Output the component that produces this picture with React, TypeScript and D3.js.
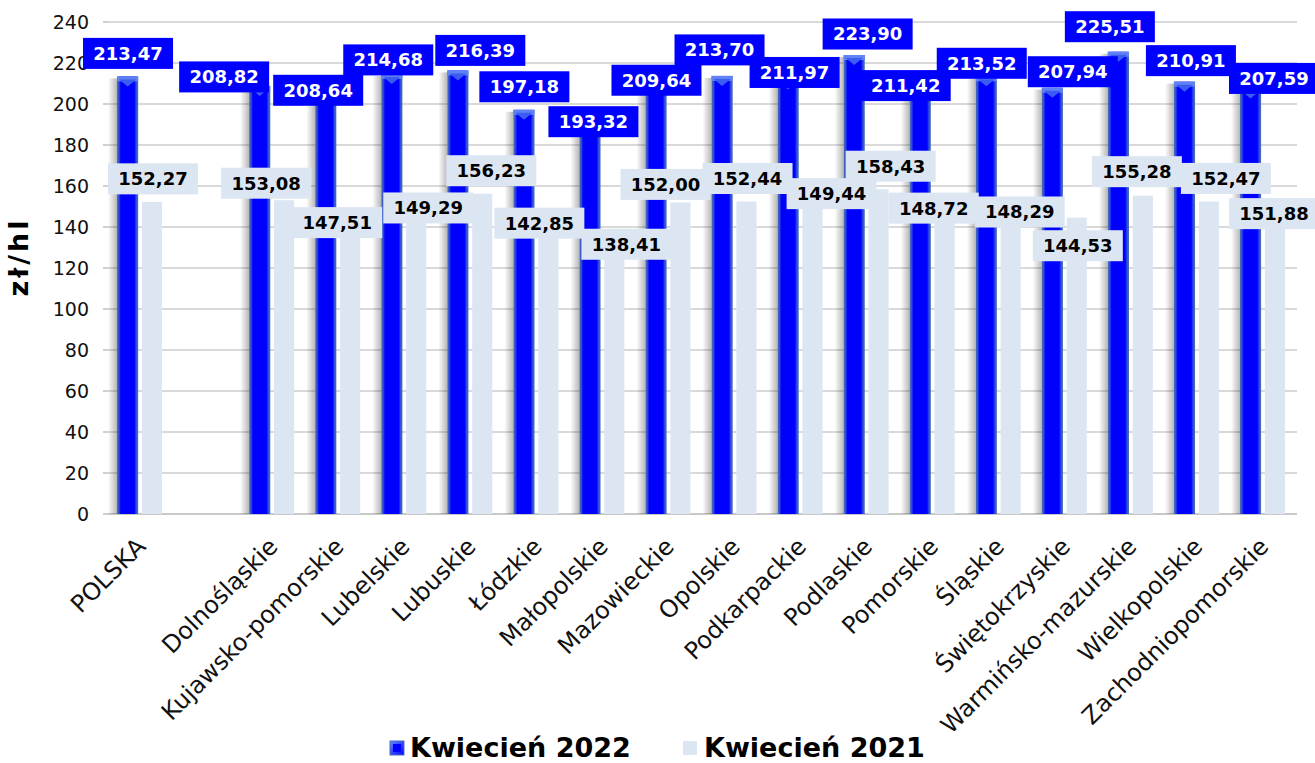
import React from 'react';
import * as d3 from 'd3';

const categories: string[] = [
  'POLSKA', '', 'Dolnośląskie', 'Kujawsko-pomorskie', 'Lubelskie', 'Lubuskie', 'Łódzkie',
  'Małopolskie', 'Mazowieckie', 'Opolskie', 'Podkarpackie', 'Podlaskie', 'Pomorskie',
  'Śląskie', 'Świętokrzyskie', 'Warmińsko-mazurskie', 'Wielkopolskie', 'Zachodniopomorskie',
];
const values2022: (number | null)[] = [
  213.47, null, 208.82, 208.64, 214.68, 216.39, 197.18, 193.32, 209.64, 213.7, 211.97,
  223.9, 211.42, 213.52, 207.94, 225.51, 210.91, 207.59,
];
const values2021: (number | null)[] = [
  152.27, null, 153.08, 147.51, 149.29, 156.23, 142.85, 138.41, 152.0, 152.44, 149.44,
  158.43, 148.72, 148.29, 144.53, 155.28, 152.47, 151.88,
];
const seriesNames = ['Kwiecień 2022', 'Kwiecień 2021'];
const yTicks = [0, 20, 40, 60, 80, 100, 120, 140, 160, 180, 200, 220, 240];

// layout: label box centre offsets (from slot centre, from bar top)
const labelOffset2022: [number, number][] = [
  [-13, -23], [0, 0], [-49, -9], [-21, 4], [-17, -14], [9, -20], [-13, -23], [-10, 4],
  [-13, -4], [-16, -26], [-7, -7], [0, -21], [-28, 5], [-18, -13], [7, -16], [-22, -25],
  [-7, -21], [10, -10],
];
const labelOffset2021: [number, number][] = [
  [12, -23], [0, 0], [-7, -17], [-2, 11], [23, 0], [20, -23], [2, 2], [23, 14],
  [-4, -18], [12, -23], [30, -14], [23, -23], [0, -1], [20, 2], [12, 28], [5, -24],
  [28, -23], [10, 11],
];

const W = 1315;
const H = 763;
const plotLeft = 108;
const plotRight = 1297;
const plotTop = 22;
const plotBottom = 514;
const FONT = "'DejaVu Sans', Verdana, sans-serif";

const fmt = (v: number) => v.toFixed(2).replace('.', ',');

export default function App() {
  const idx = categories.map((_, i) => String(i));
  const x0 = d3.scaleBand<string>().domain(idx).range([plotLeft, plotRight]).paddingInner(0).paddingOuter(0);
  const x1 = d3.scaleBand<string>().domain(seriesNames).range([-24, 22]).paddingInner(0.15);
  const y = d3.scaleLinear().domain([0, 240]).range([plotBottom, plotTop]);
  const center = (i: number) => (x0(String(i)) as number) + x0.bandwidth() / 2;
  const bw = x1.bandwidth();

  const boxW = 90;
  const boxH = 31;

  return (
    <svg
      width={W}
      height={H}
      style={{ position: 'absolute', left: 0, top: 0, background: '#fff' }}
      fontFamily={FONT}
    >
      <defs>
        <linearGradient id="blueBar" x1="0" x2="1" y1="0" y2="0">
          <stop offset="0%" stopColor="#4a70b8" />
          <stop offset="9%" stopColor="#3050d8" />
          <stop offset="18%" stopColor="#0000ff" />
          <stop offset="82%" stopColor="#0000ff" />
          <stop offset="91%" stopColor="#3050d8" />
          <stop offset="100%" stopColor="#4a70b8" />
        </linearGradient>
        <linearGradient id="shadow" x1="0" x2="1" y1="0" y2="0">
          <stop offset="0%" stopColor="#000" stopOpacity="0" />
          <stop offset="100%" stopColor="#000" stopOpacity="0.28" />
        </linearGradient>
        <linearGradient id="legendBlue" x1="0" x2="1" y1="0" y2="1">
          <stop offset="0%" stopColor="#6a8cff" />
          <stop offset="100%" stopColor="#0000ff" />
        </linearGradient>
      </defs>

      {/* gridlines */}
      {yTicks.map((t) => (
        <g key={t}>
          <line x1={plotLeft} x2={plotRight} y1={y(t)} y2={y(t)} stroke={t === 0 ? '#c8c8c8' : '#d9d9d9'} strokeWidth={2} />
          <line x1={plotLeft - 5} x2={plotLeft} y1={y(t)} y2={y(t)} stroke="#bfbfbf" strokeWidth={1.5} />
          <text x={89} y={y(t)} dy="0.36em" textAnchor="end" fontSize={19} fill="#111">
            {t}
          </text>
        </g>
      ))}

      {/* bars */}
      {categories.map((c, i) => {
        const cx = center(i);
        const v1 = values2022[i];
        const v2 = values2021[i];
        const bx1 = cx + (x1(seriesNames[0]) as number);
        const bx2 = cx + (x1(seriesNames[1]) as number);
        return (
          <g key={'b' + i}>
            {v1 != null && (
              <g>
                <rect x={bx1 - 9} y={y(v1) + 2} width={9} height={plotBottom - y(v1) - 2} fill="url(#shadow)" />
                <rect x={bx1} y={y(v1)} width={bw} height={plotBottom - y(v1)} fill="url(#blueBar)" />
                <rect x={bx1} y={y(v1)} width={bw} height={5} fill="#5f82f5" />
                <polygon
                  points={`${bx1 + 2},${y(v1) + 3} ${bx1 + bw - 2},${y(v1) + 3} ${bx1 + bw / 2},${y(v1) + 10}`}
                  fill="#3a5cf0"
                />
              </g>
            )}
            {v2 != null && (
              <rect x={bx2} y={y(v2)} width={bw - 1} height={plotBottom - y(v2)} fill="#dce6f2" />
            )}
          </g>
        );
      })}

      {/* 2022 labels */}
      {categories.map((c, i) => {
        const v = values2022[i];
        if (v == null) return null;
        const lx = center(i) + labelOffset2022[i][0];
        const ly = y(v) + labelOffset2022[i][1];
        return (
          <g key={'l1' + i}>
            <rect x={lx - boxW / 2} y={ly - boxH / 2} width={boxW} height={boxH} fill="#0000ff" />
            <text x={lx} y={ly} dy="0.36em" textAnchor="middle" fontSize={18} fontWeight="bold" fill="#fff">
              {fmt(v)}
            </text>
          </g>
        );
      })}

      {/* 2021 labels */}
      {categories.map((c, i) => {
        const v = values2021[i];
        if (v == null) return null;
        const lx = center(i) + labelOffset2021[i][0];
        const ly = y(v) + labelOffset2021[i][1];
        return (
          <g key={'l2' + i}>
            <rect x={lx - boxW / 2} y={ly - boxH / 2} width={boxW} height={boxH} fill="#dce6f2" />
            <text x={lx} y={ly} dy="0.36em" textAnchor="middle" fontSize={18} fontWeight="bold" fill="#000">
              {fmt(v)}
            </text>
          </g>
        );
      })}

      {/* category labels */}
      {categories.map((c, i) =>
        c ? (
          <text
            key={'c' + i}
            transform={`translate(${center(i) + 6},548) rotate(-45)`}
            textAnchor="end"
            fontSize={24}
            fill="#111"
          >
            {c}
          </text>
        ) : null
      )}

      {/* y title */}
      <text transform="translate(28,257) rotate(-90)" textAnchor="middle" fontSize={27} fontWeight="bold" fill="#000" letterSpacing={3}>
        zł/hl
      </text>

      {/* legend */}
      <g>
        <rect x={390} y={741} width={14} height={14} fill="url(#legendBlue)" stroke="#4a70b8" strokeWidth={1} />
        <rect x={393} y={744} width={8} height={8} fill="#0000ff" />
        <text x={410} y={757} fontSize={27} fontWeight="bold" fill="#000">
          {seriesNames[0]}
        </text>
        <rect x={683} y={741} width={14} height={14} fill="#dce6f2" />
        <text x={704} y={757} fontSize={27} fontWeight="bold" fill="#000">
          {seriesNames[1]}
        </text>
      </g>
    </svg>
  );
}
